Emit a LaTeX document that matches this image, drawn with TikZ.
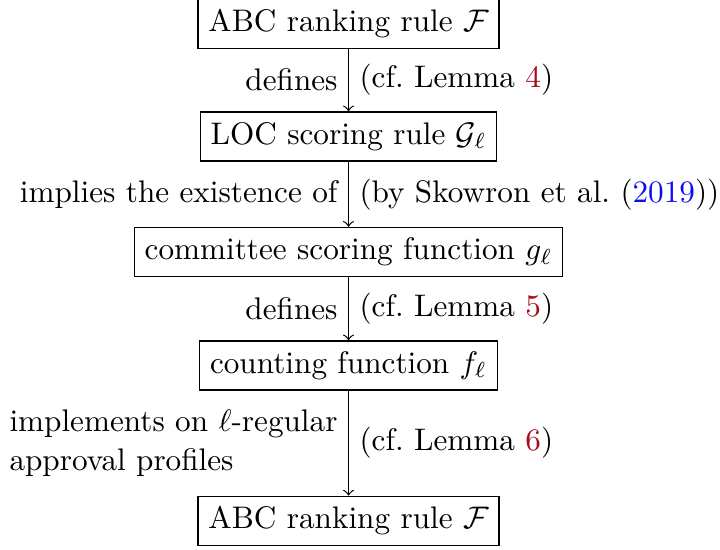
\documentclass[tikz,border=0pt]{standalone}
\usepackage{xcolor}
\definecolor{refred}{rgb}{0.65,0.05,0.1}
\definecolor{refblue}{rgb}{0.05,0.05,0.95}
\begin{document}
\begin{tikzpicture}[x=0.3205pt,y=-0.3205pt,
  box/.style={draw,line width=0.4pt,inner sep=3.33pt,font=\fontsize{10}{12.8}\selectfont},
  lbl/.style={font=\fontsize{10}{12.8}\selectfont,inner sep=3.33pt},
  arr/.style={->,line width=0.4pt}]
\useasboundingbox (0,0) rectangle (720,550);
\node[box] (b1) at (348.5,23.5) {ABC ranking rule $\mathcal{F}$};
\node[box] (b2) at (348.5,136.5) {LOC scoring rule $\mathcal{G}_\ell$};
\node[box] (b3) at (348.5,252) {committee scoring function $g_\ell$};
\node[box] (b4) at (348.5,365.5) {counting function $f_\ell$};
\node[box] (b5) at (348.5,521) {ABC ranking rule $\mathcal{F}$};
\draw[arr] (b1) -- node[lbl,left] (l1) {defines} node[lbl,right] (r1) {(cf.\ Lemma \textcolor{refred}{4})} (b2);
\draw[arr] (b2) -- node[lbl,left] (l2) {implies the existence of} node[lbl,right] (r2) {(by Skowron et al.\ (\textcolor{refblue}{2019}))} (b3);
\draw[arr] (b3) -- node[lbl,left] (l3) {defines} node[lbl,right] (r3) {(cf.\ Lemma \textcolor{refred}{5})} (b4);
\draw[arr] (b4) -- node[lbl,left,align=left] (l4) {implements on $\ell$-regular\\approval profiles} node[lbl,right] (r4) {(cf.\ Lemma \textcolor{refred}{6})} (b5);
\end{tikzpicture}
\end{document}
